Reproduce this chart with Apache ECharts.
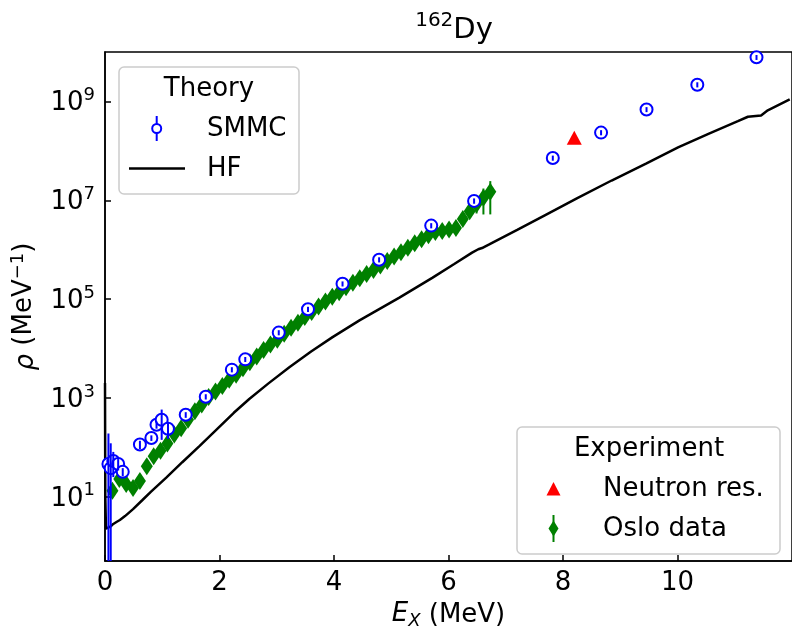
<!DOCTYPE html>
<html><head><meta charset="utf-8">
<script src="https://cdn.jsdelivr.net/npm/echarts@6/dist/echarts.min.js"></script>
<style>html,body{margin:0;padding:0;background:#fff}#c{width:792px;height:635px}</style>
</head><body><div id="c"></div>
<script>
// ---- data (E in MeV, rho in MeV^-1) ----
const smmcE   = [0.06, 0.10, 0.145, 0.23, 0.31, 0.61, 0.81, 0.90, 0.99, 1.10, 1.41, 1.76, 2.216, 2.45, 3.035, 3.546, 4.149, 4.788, 5.698, 6.447, 7.822, 8.665, 9.459, 10.346, 11.38];
const smmcRho = [46, 38, 53, 46, 32, 114, 155, 287, 362, 239, 456, 1060, 3740, 6040, 21000, 62400, 204000, 627000, 3.07e6, 9.7e6, 7.16e7, 2.34e8, 6.87e8, 2.18e9, 7.8e9];
const smmcErr = [146, 83, 28, 12, 6, 22, 20, 48, 220, 90, 60, 130, 450, 700, 2500, 7500, 24000, 75000, 3.7e5, 1.2e6, 8.5e6, 2.8e7, 8e7, 2.6e8, 9e8];

const neutronE   = [8.197];
const neutronRho = [1.85e8];

const osloE = [0.13, 0.25, 0.37, 0.49, 0.61, 0.73, 0.85, 0.97, 1.09, 1.21, 1.33, 1.45, 1.57, 1.69, 1.81, 1.93, 2.05, 2.17, 2.29, 2.41, 2.53, 2.65, 2.77, 2.89, 3.01, 3.13, 3.25, 3.37, 3.49, 3.61, 3.73, 3.85, 3.97, 4.09, 4.21, 4.33, 4.45, 4.57, 4.69, 4.81, 4.93, 5.05, 5.17, 5.29, 5.41, 5.53, 5.65, 5.77, 5.89, 6.01, 6.13, 6.25, 6.37, 6.49, 6.61, 6.73];
const osloRho = [13.2, 22.9, 18.2, 15.1, 20.9, 41.7, 66.1, 85.1, 120, 182, 245, 363, 537, 741, 1047, 1349, 1738, 2344, 2951, 3981, 5248, 6918, 9333, 12020, 15140, 19950, 26300, 33110, 43650, 54950, 70790, 89130, 112200, 138000, 173800, 213800, 263000, 323600, 389000, 478600, 588800, 724400, 891300, 1.096e6, 1.349e6, 1.622e6, 1.95e6, 2.291e6, 2.399e6, 2.57e6, 2.754e6, 4.169e6, 6.026e6, 8.318e6, 1.122e7, 1.479e7];
const osloRelErr = [0.04, 0.04, 0.04, 0.04, 0.04, 0.04, 0.04, 0.04, 0.04, 0.04, 0.05, 0.05, 0.05, 0.05, 0.05, 0.05, 0.05, 0.05, 0.06, 0.06, 0.06, 0.06, 0.06, 0.06, 0.07, 0.07, 0.07, 0.07, 0.07, 0.08, 0.08, 0.08, 0.08, 0.09, 0.09, 0.09, 0.10, 0.10, 0.10, 0.11, 0.11, 0.12, 0.12, 0.13, 0.13, 0.14, 0.15, 0.16, 0.17, 0.18, 0.20, 0.22, 0.25, 0.35, 0.54, 0.65];

const hfE   = [0, 0.005, 0.017, 0.05, 0.10, 0.145, 0.20, 0.26, 0.35, 0.49, 0.65, 0.80, 1.07, 1.35, 1.654, 2.002, 2.25, 2.52, 2.85, 3.22, 3.6, 3.975, 4.445, 5.142, 5.716, 6.10, 6.412, 6.52, 6.586, 6.703, 7.2, 7.69, 8.25, 8.849, 9.45, 10.01, 10.55, 11.055, 11.23, 11.46, 11.577, 11.96];
const hfRho = [2000, 10, 2.26, 2.29, 2.51, 2.82, 3.09, 3.39, 4.07, 5.62, 8.51, 12.6, 24.5, 50.1, 107, 263, 501, 955, 1950, 4170, 8710, 17000, 37200, 107000, 269000, 513000, 871000, 1.02e6, 1.08e6, 1.26e6, 2.51e6, 5.01e6, 1.10e7, 2.51e7, 5.5e7, 1.175e8, 2.24e8, 3.98e8, 4.9e8, 5.21e8, 6.6e8, 1.1e9];

const yTickExponents = [1, 3, 5, 7, 9];
const xTicks = [0, 2, 4, 6, 8, 10];

// ---- build ----
const FONT = 'DejaVu Sans';
const FS = 26;
const zip = (a, b) => a.map((v, i) => [v, b[i]]);
const errData = (E, R, S) => E.map((e, i) => [e, Math.max(R[i] - S[i], 1e-3), R[i] + S[i]]);
const osloSigma = osloRho.map((r, i) => r * osloRelErr[i]);

function errRenderer(color) {
  return function (params, api) {
    const p1 = api.coord([api.value(0), api.value(1)]);
    const p2 = api.coord([api.value(0), api.value(2)]);
    return { type: 'line', shape: { x1: p1[0], y1: p1[1], x2: p2[0], y2: p2[1] },
             style: { stroke: color, lineWidth: 2 } };
  };
}

const chart = echarts.init(document.getElementById('c'), null, { renderer: 'canvas', width: 792, height: 635 });

const supStyle = { fontSize: 18, fontFamily: FONT, color: '#000', verticalAlign: 'bottom', padding: [0, 0, 12, 0] };
const baseStyle = { fontSize: FS, fontFamily: FONT, color: '#000', verticalAlign: 'bottom' };

const option = {
  animation: false,
  backgroundColor: '#fff',
  title: {
    text: '{s|162}{m|Dy}',
    left: 449, top: 6, textAlign: 'center',
    textStyle: { fontWeight: 'normal', rich: {
      s: { fontSize: 20, fontFamily: FONT, fontWeight: 'normal', color: '#000', verticalAlign: 'bottom', padding: [0, 0, 14, 0] },
      m: { fontSize: 29, fontFamily: FONT, fontWeight: 'normal', color: '#000', verticalAlign: 'bottom' }
    } }
  },
  grid: { left: 105, top: 52, width: 689, height: 514, show: true, borderColor: '#000', borderWidth: 1.5, backgroundColor: 'transparent' },
  xAxis: {
    type: 'value', min: 0, max: 12, interval: 2,
    axisLine: { onZero: false, lineStyle: { color: '#000', width: 1.5 } },
    axisTick: { inside: true, length: 6, lineStyle: { color: '#000', width: 1.5 } },
    splitLine: { show: false },
    axisLabel: { color: '#000', fontSize: FS, fontFamily: FONT, margin: 9, showMaxLabel: false,
      formatter: v => (xTicks.indexOf(v) >= 0 ? String(v) : '') },
    name: '{i|E}{sub|X} (MeV)', nameLocation: 'middle', nameGap: 36,
    nameTextStyle: { fontSize: FS, fontFamily: FONT, color: '#000', rich: {
      i: { fontSize: FS, fontFamily: FONT, fontStyle: 'italic', color: '#000', verticalAlign: 'top' },
      sub: { fontSize: 18, fontFamily: FONT, fontStyle: 'italic', color: '#000', verticalAlign: 'top', padding: [11, 0, 0, 0] }
    } }
  },
  yAxis: [
    { type: 'log', logBase: 10, min: 0.5, max: 1e10, position: 'left', show: false },
    {
      type: 'value', position: 'left', min: Math.log10(0.5) - 1, max: 9, splitNumber: 5,
      axisLine: { show: true, onZero: false, lineStyle: { color: '#000', width: 1.5 } },
      axisTick: { show: true, inside: true, length: 6, lineStyle: { color: '#000', width: 1.5 } },
      splitLine: { show: false },
      axisLabel: {
        margin: 10, showMinLabel: false, showMaxLabel: false,
        formatter: function (v) {
          const n = Math.round(v + 1);
          if (Math.abs(v + 1 - n) > 1e-6 || yTickExponents.indexOf(n) < 0) return '';
          return '{b|10}{s|' + n + '}';
        },
        rich: { b: baseStyle, s: supStyle }
      },
      name: '{i|ρ} (MeV{s|−1})', nameLocation: 'middle', nameGap: 56, nameRotate: 90,
      nameTextStyle: { fontSize: FS, fontFamily: FONT, color: '#000', rich: {
        i: { fontSize: FS, fontFamily: FONT, fontStyle: 'italic', color: '#000', verticalAlign: 'bottom' },
        s: supStyle
      } }
    }
  ],
  series: [
    { name: 'HF', type: 'line', data: zip(hfE, hfRho), yAxisIndex: 0, showSymbol: false, symbol: 'none',
      lineStyle: { color: '#000', width: 2.5 }, z: 2, clip: true },
    { name: 'Oslo err', type: 'custom', data: errData(osloE, osloRho, osloSigma), yAxisIndex: 0,
      renderItem: errRenderer('#008000'), encode: { x: 0, y: [1, 2] }, clip: true, z: 3 },
    { name: 'Oslo data', type: 'scatter', data: zip(osloE, osloRho), yAxisIndex: 0, symbol: 'diamond', symbolSize: [12, 18],
      itemStyle: { color: '#008000', opacity: 1 }, z: 4 },
    { name: 'Neutron res.', type: 'scatter', data: zip(neutronE, neutronRho), yAxisIndex: 0, symbol: 'triangle', symbolSize: [15, 14],
      itemStyle: { color: '#ff0000', opacity: 1 }, z: 5 },
    { name: 'SMMC', type: 'scatter', data: zip(smmcE, smmcRho), yAxisIndex: 0, symbol: 'circle', symbolSize: 12,
      itemStyle: { color: '#ffffff', borderColor: '#0000ff', borderWidth: 2, opacity: 1 }, z: 6 },
    { name: 'SMMC err', type: 'custom', data: errData(smmcE, smmcRho, smmcErr), yAxisIndex: 0,
      renderItem: errRenderer('#0000ff'), encode: { x: 0, y: [1, 2] }, clip: true, z: 7 }
  ],
  graphic: [
    // Theory legend
    { type: 'rect', shape: { x: 119, y: 67, width: 180, height: 127, r: 5 }, style: { fill: 'rgba(255,255,255,0.8)', stroke: '#cccccc', lineWidth: 1.5 }, z: 100 },
    { type: 'text', style: { text: 'Theory', x: 209, y: 89, font: FS + 'px "DejaVu Sans"', fill: '#000', textAlign: 'center', textVerticalAlign: 'middle' }, z: 101 },
    { type: 'line', shape: { x1: 156.7, y1: 116, x2: 156.7, y2: 141 }, style: { stroke: '#0000ff', lineWidth: 2 }, z: 101 },
    { type: 'circle', shape: { cx: 156.7, cy: 128.5, r: 4.5 }, style: { fill: '#fff', stroke: '#0000ff', lineWidth: 2 }, z: 102 },
    { type: 'text', style: { text: 'SMMC', x: 207, y: 129, font: FS + 'px "DejaVu Sans"', fill: '#000', textAlign: 'left', textVerticalAlign: 'middle' }, z: 101 },
    { type: 'line', shape: { x1: 129, y1: 168.5, x2: 185, y2: 168.5 }, style: { stroke: '#000', lineWidth: 2.5 }, z: 101 },
    { type: 'text', style: { text: 'HF', x: 207, y: 169, font: FS + 'px "DejaVu Sans"', fill: '#000', textAlign: 'left', textVerticalAlign: 'middle' }, z: 101 },
    // Experiment legend
    { type: 'rect', shape: { x: 517, y: 427, width: 263, height: 127, r: 5 }, style: { fill: 'rgba(255,255,255,0.8)', stroke: '#cccccc', lineWidth: 1.5 }, z: 100 },
    { type: 'text', style: { text: 'Experiment', x: 649, y: 449, font: FS + 'px "DejaVu Sans"', fill: '#000', textAlign: 'center', textVerticalAlign: 'middle' }, z: 101 },
    { type: 'polygon', shape: { points: [[553.5, 482], [546.5, 495.5], [560.5, 495.5]] }, style: { fill: '#ff0000' }, z: 101 },
    { type: 'text', style: { text: 'Neutron res.', x: 603, y: 489, font: FS + 'px "DejaVu Sans"', fill: '#000', textAlign: 'left', textVerticalAlign: 'middle' }, z: 101 },
    { type: 'line', shape: { x1: 553.5, y1: 515, x2: 553.5, y2: 542 }, style: { stroke: '#008000', lineWidth: 2 }, z: 101 },
    { type: 'polygon', shape: { points: [[553.5, 520.5], [558.5, 528.5], [553.5, 536.5], [548.5, 528.5]] }, style: { fill: '#008000' }, z: 102 },
    { type: 'text', style: { text: 'Oslo data', x: 603, y: 529, font: FS + 'px "DejaVu Sans"', fill: '#000', textAlign: 'left', textVerticalAlign: 'middle' }, z: 101 }
  ]
};
chart.setOption(option);
</script>
</body></html>
